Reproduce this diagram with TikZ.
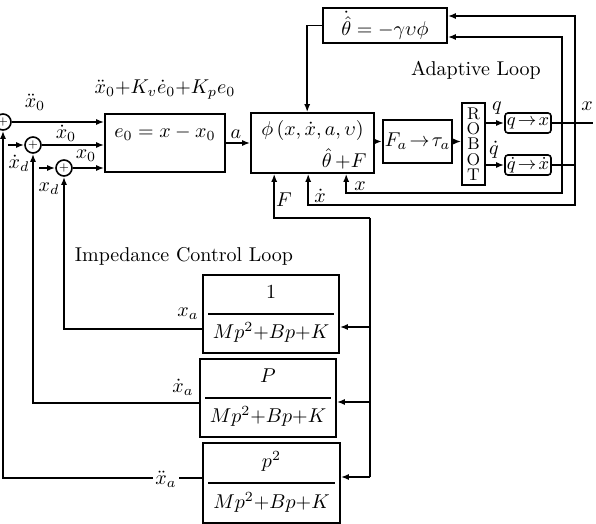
\documentclass[tikz,border=0pt]{standalone}
\usetikzlibrary{arrows.meta}
\begin{document}
\begin{tikzpicture}[x=0.5pt,y=-0.5pt,
    >={Latex[length=4pt,width=3pt]},
    blk/.style={draw,thick,inner sep=1pt},
    sumj/.style={draw,thick,circle,minimum size=8pt,inner sep=0pt,font=\tiny},
    sig/.style={thick},
    lbl/.style={inner sep=1pt}]
    \useasboundingbox (0,0) rectangle (596,524);

    % Draw summing junctions
    \node[sumj] (s1) at (3,122) {$+$};
    \node[sumj] (s2) at (33,145) {$+$};
    \node[sumj] (s3) at (64,168) {$+$};

    % Draw blocks of the main loop
    \node[blk,minimum width=60pt,minimum height=29pt,
        label={[anchor=north,yshift=-3pt]north:$e_0=x-x_0$}] (err) at (165,143) {};
    \node[blk,minimum width=61.5pt,minimum height=30pt] (phi) at (312.5,143) {};
    \node[lbl,anchor=north] (phitxt) at ([yshift=-3pt]phi.north) {$\phi\,(x,\dot x,a,\upsilon)$};
    \node[lbl,anchor=south east] (thF) at ([xshift=-3pt,yshift=1pt]phi.south east) {$\hat\theta\,{+}F$};
    \node[blk,minimum width=62pt,minimum height=17.5pt] (adapt) at (385,25.5) {$\dot{\hat\theta}=-\gamma\upsilon\phi$};
    \node[lbl] (adlbl) at (476,70) {Adaptive Loop};
    \node[blk,minimum width=34.5pt,minimum height=21.5pt] (ftau) at (417.5,141.5) {$F_a\!\to\!\tau_a$};
    \node[blk,minimum width=11.5pt,minimum height=41pt,align=center,
        font=\fontsize{8.5}{7.6}\selectfont] (robot) at (473.5,144) {R\\O\\B\\O\\T};
    \node[blk,rounded corners=1.5pt,minimum width=22pt,minimum height=10pt,font=\small] (qx) at (528,123) {$q\!\to\!x$};
    \node[blk,rounded corners=1.5pt,minimum width=22pt,minimum height=10pt,font=\small] (qdx) at (528,165) {$\dot q\!\to\!\dot x$};

    % Draw impedance blocks
    \node[blk,minimum width=68pt,minimum height=39pt,
        label={[anchor=north,yshift=-2pt]north:$1$},
        label={[anchor=south,yshift=2pt]south:$Mp^2{+}Bp{+}K$}] (imp1) at (271,314) {};
    \node[blk,minimum width=68pt,minimum height=39pt,
        label={[anchor=north,yshift=-2pt]north:$P$},
        label={[anchor=south,yshift=2pt]south:$Mp^2{+}Bp{+}K$}] (imp2) at (268,398) {};
    \node[blk,minimum width=68.5pt,minimum height=40pt,
        label={[anchor=north,yshift=-1pt]north:$p^2$},
        label={[anchor=south,yshift=2pt]south:$Mp^2{+}Bp{+}K$}] (imp3) at (271.5,483) {};
    \foreach \b in {imp1,imp2,imp3}
        \draw[sig] ([xshift=3pt]\b.west) -- ([xshift=-3pt]\b.east);

    % Labels of the signals
    \node[lbl] (lxdd0) at (35,102) {$\ddot x_0$};
    \node[lbl] (lxd0) at (66,133) {$\dot x_0$};
    \node[lbl] (lx0) at (86,156) {$x_0$};
    \node[lbl] (lctl) at (165,90) {$\ddot x_0{+}K_v\dot e_0{+}K_pe_0$};
    \node[lbl] (lxdd) at (19,163) {$\dot x_d$};
    \node[lbl] (lxd) at (49,189) {$x_d$};
    \node[lbl] (la) at (236,134) {$a$};
    \node[lbl] (lF) at (284,200) {$F$};
    \node[lbl] (lxdot) at (320,196) {$\dot x$};
    \node[lbl] (lx) at (360,186) {$x$};
    \node[lbl] (lq) at (497,108) {$q$};
    \node[lbl] (lqd) at (494,150) {$\dot q$};
    \node[lbl] (lxout) at (587,106) {$x$};
    \node[lbl] (limp) at (184,256) {Impedance Control Loop};
    \node[lbl] (lxa) at (188,314) {$x_a$};
    \node[lbl] (lxda) at (183,387) {$\dot x_a$};
    \node[lbl] (lxdda) at (166,479) {$\ddot x_a$};

    % Draw forward path
    \draw[sig,->] (s1.east) -- (s1.east -| err.west);
    \draw[sig,->] (s2.east) -- (s2.east -| err.west);
    \draw[sig,->] (s3.east) -- (s3.east -| err.west);
    \coordinate (xdin) at (8,145);
    \coordinate (xin) at (39,168);
    \draw[sig,->] (xdin) -- (s2.west);
    \draw[sig,->] (xin) -- (s3.west);
    \draw[sig,->] (err.east) -- (phi.west);
    \draw[sig,->] (phi.east |- ftau.west) -- (ftau.west);
    \draw[sig,->] (ftau.east) -- (ftau.east -| robot.west);
    \draw[sig,->] (robot.east |- qx.west) -- (qx.west);
    \draw[sig,->] (robot.east |- qdx.west) -- (qdx.west);

    % Draw outputs and adaptive loop
    \coordinate (xout) at (593,123);
    \coordinate (xR) at (562,123);
    \coordinate (xdR) at (575,165);
    \coordinate (xb) at (562,193);
    \coordinate (xdb) at (575,205);
    \draw[sig] (qx.east) -- (xout);
    \draw[sig] (qdx.east) -- (xdR);
    \draw[sig,->] (xR) |- ([yshift=-5.75pt]adapt.east);
    \draw[sig,->] (xdR) |- ([yshift=4.75pt]adapt.east);
    \draw[sig,->] (xR) -- (xb) -| ([xshift=48pt]phi.south west);
    \draw[sig,->] (xdR) -- (xdb) -| ([xshift=29pt]phi.south west);
    \draw[sig,->] (adapt.west) -| ([xshift=28.5pt]phi.north west);

    % Draw impedance control loop
    \coordinate (fk) at (370,218);
    \coordinate (t1) at ([yshift=-6.5pt]imp1.east);
    \coordinate (t2) at ([yshift=-2pt]imp2.east);
    \coordinate (t3) at ([yshift=3pt]imp3.east);
    \coordinate (o3) at ([yshift=2.5pt]imp3.west);
    \draw[sig,->] (fk) -| ([xshift=12pt]phi.south west);
    \draw[sig] (fk) -- (fk |- t3);
    \foreach \t in {t1,t2,t3}
        \draw[sig,->] (fk |- \t) -- (\t);
    \draw[sig,->] ([yshift=-7.5pt]imp1.west) -| (s3.south);
    \draw[sig,->] ([yshift=-2.5pt]imp2.west) -| (s2.south);
    \draw[sig] (o3) -- (lxdda.east |- o3);
    \draw[sig,->] (lxdda.west |- o3) -| (s1.south);
\end{tikzpicture}
\end{document}
